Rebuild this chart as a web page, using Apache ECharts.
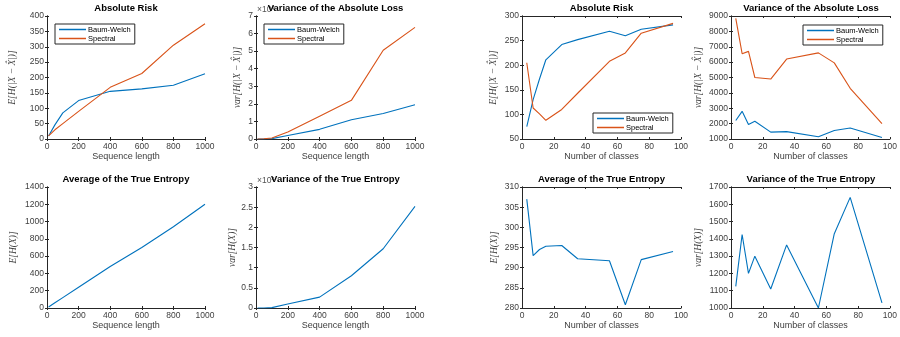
<!DOCTYPE html>
<html>
<head>
<meta charset="utf-8">
<script src="https://cdn.jsdelivr.net/npm/echarts@6/dist/echarts.min.js"></script>
<style>
html, body { margin: 0; padding: 0; background: #fff; }
#main { width: 900px; height: 337px; }
</style>
</head>
<body>
<div id="main"></div>
<script>
// x values
var seqLen = [10, 50, 100, 200, 400, 600, 800, 1000];
var classes = [3, 7, 11, 15, 25, 35, 55, 65, 75, 95];

// sequence length panels
var riskSeqBW = [10, 46, 85, 125, 155, 163, 175, 212];
var riskSeqSp = [10, 30, 50, 90, 168, 213, 305, 375];
var varLossSeqBW = [0, 0, 200, 2000, 5500, 11000, 14500, 19500];
var varLossSeqSp = [0, 100, 600, 4000, 13000, 22000, 50500, 63500];
var entSeq = [12, 60, 120, 240, 480, 700, 940, 1200];
var varEntSeq = [0, 0, 100, 1000, 2700, 8000, 14700, 25200];

// number of classes panels
var riskClsBW = [75, 130, 172, 211, 242, 252, 269, 260, 273, 282];
var riskClsSp = [205, 113, 101, 88, 110, 143, 208, 225, 265, 285];
var varLossClsBW = [2200, 2800, 1950, 2150, 1450, 1480, 1150, 1550, 1720, 1100];
var varLossClsSp = [8850, 6550, 6700, 5000, 4900, 6200, 6600, 5950, 4300, 2000];
var entCls = [307, 293, 294.5, 295.3, 295.5, 292.2, 291.7, 280.8, 292, 294];
var varEntCls = [1125, 1425, 1200, 1300, 1110, 1365, 1000, 1430, 1640, 1030];

var blue = '#0072BD', orange = '#D95319';
var axisCol = '#262626';
var font = '"Liberation Sans", Arial, Helvetica, sans-serif';

var myChart = echarts.init(document.getElementById('main'));

var option = {
    backgroundColor: '#fff',
    animation: false,
    title: [], grid: [], xAxis: [], yAxis: [], series: [], legend: [], graphic: []
};

function pair(a, b) {
    var out = [];
    for (var i = 0; i < a.length; i++) out.push([a[i], b[i]]);
    return out;
}

function plain(v) { return String(v); }

function panel(p) {
    var gi = option.grid.length;
    option.grid.push({left: p.l, top: p.t, width: p.w, height: p.h, containLabel: false});
    option.title.push({
        text: p.title, left: p.l + p.w / 2, top: p.t - 13, textAlign: 'center', padding: 0,
        textStyle: {fontFamily: font, fontSize: 9.5, fontWeight: 'bold', color: '#000'}
    });
    var xb = {
        type: 'value', gridIndex: gi, min: p.xmin, max: p.xmax, interval: p.xint,
        name: p.xname, nameLocation: 'middle', nameGap: 9,
        nameTextStyle: {fontFamily: font, fontSize: 9, color: '#404040'},
        axisLine: {show: true, lineStyle: {color: axisCol, width: 1}},
        axisTick: {show: true, inside: true, length: 2, lineStyle: {color: axisCol}},
        axisLabel: {fontFamily: font, fontSize: 8.5, color: '#404040', margin: 3, formatter: plain},
        splitLine: {show: false}
    };
    var yb = {
        type: 'value', gridIndex: gi, min: p.ymin, max: p.ymax, interval: p.yint,
        name: p.yname, nameLocation: 'middle', nameGap: p.ygap,
        nameTextStyle: {fontFamily: '"Liberation Serif", "DejaVu Serif", serif', fontStyle: 'italic', fontSize: 9.5, color: '#404040'},
        axisLine: {show: true, lineStyle: {color: axisCol, width: 1}},
        axisTick: {show: true, inside: true, length: 2, lineStyle: {color: axisCol}},
        axisLabel: {fontFamily: font, fontSize: 8.5, color: '#404040', margin: 3,
            formatter: p.yfmt || plain},
        splitLine: {show: false}
    };
    var xt = echarts.util.clone(xb);
    xt.position = 'top'; xt.name = ''; xt.axisLabel = {show: false};
    var yr = echarts.util.clone(yb);
    yr.position = 'right'; yr.name = ''; yr.axisLabel = {show: false};
    xb.position = 'bottom'; yb.position = 'left';
    var xi = option.xAxis.length, yi = option.yAxis.length;
    option.xAxis.push(xb, xt);
    option.yAxis.push(yb, yr);
    p.lines.forEach(function (s) {
        option.series.push({
            type: 'line', name: s.name, xAxisIndex: xi, yAxisIndex: yi,
            data: pair(p.x, s.data), symbol: 'none', showSymbol: false,
            lineStyle: {color: s.color, width: 1.1}, itemStyle: {color: s.color}
        });
    });
    if (p.legend) {
        option.legend.push({
            left: p.legend[0], top: p.legend[1], orient: 'vertical',
            data: ['Baum-Welch', 'Spectral'], icon: 'rect', itemWidth: 27, itemHeight: 1.5, itemGap: 0,
            padding: [1, 4, 1, 4], borderColor: axisCol, borderWidth: 1, backgroundColor: '#fff',
            selectedMode: false,
            textStyle: {fontFamily: font, fontSize: 7.5, color: '#000', lineHeight: 9, padding: [0, 0, 0, -3]}
        });
    }
    if (p.exp) {
        option.graphic.push({
            type: 'text', left: p.l + 1, top: p.t - 11, z: 1,
            style: {text: '×10{s|4}', fill: '#555', font: '8.5px ' + font,
                rich: {s: {fontSize: 6, verticalAlign: 'top', fill: '#555', padding: [0, 0, 4, 0]}}}
        });
    }
}

var riskName = 'E[H(|X − X\u0302|)]';
var varName = 'var[H(|X − X\u0302|)]';
var e4 = function (v) { return String(+(v / 10000).toFixed(1)); };

panel({title: 'Absolute Risk', l: 47, t: 16, w: 158, h: 123, x: seqLen,
    xmin: 0, xmax: 1000, xint: 200, xname: 'Sequence length',
    ymin: 0, ymax: 400, yint: 50, yname: riskName, ygap: 30,
    lines: [{name: 'Baum-Welch', data: riskSeqBW, color: blue}, {name: 'Spectral', data: riskSeqSp, color: orange}],
    legend: [55, 24]});
panel({title: 'Variance of the Absolute Loss', l: 256, t: 16, w: 159, h: 123, x: seqLen,
    xmin: 0, xmax: 1000, xint: 200, xname: 'Sequence length',
    ymin: 0, ymax: 70000, yint: 10000, yname: varName, ygap: 14, yfmt: e4, exp: true,
    lines: [{name: 'Baum-Welch', data: varLossSeqBW, color: blue}, {name: 'Spectral', data: varLossSeqSp, color: orange}],
    legend: [264, 24]});
panel({title: 'Absolute Risk', l: 522, t: 16, w: 159, h: 123, x: classes,
    xmin: 0, xmax: 100, xint: 20, xname: 'Number of classes',
    ymin: 50, ymax: 300, yint: 50, yname: riskName, ygap: 24,
    lines: [{name: 'Baum-Welch', data: riskClsBW, color: blue}, {name: 'Spectral', data: riskClsSp, color: orange}],
    legend: [593, 113]});
panel({title: 'Variance of the Absolute Loss', l: 731, t: 16, w: 160, h: 123, x: classes,
    xmin: 0, xmax: 100, xint: 20, xname: 'Number of classes',
    ymin: 1000, ymax: 9000, yint: 1000, yname: varName, ygap: 28,
    lines: [{name: 'Baum-Welch', data: varLossClsBW, color: blue}, {name: 'Spectral', data: varLossClsSp, color: orange}],
    legend: [803, 25]});

panel({title: 'Average of the True Entropy', l: 47, t: 187, w: 158, h: 121, x: seqLen,
    xmin: 0, xmax: 1000, xint: 200, xname: 'Sequence length',
    ymin: 0, ymax: 1400, yint: 200, yname: 'E[H(X)]', ygap: 29,
    lines: [{name: 'True', data: entSeq, color: blue}]});
panel({title: 'Variance of the True Entropy', l: 256, t: 187, w: 159, h: 121, x: seqLen,
    xmin: 0, xmax: 1000, xint: 200, xname: 'Sequence length',
    ymin: 0, ymax: 30000, yint: 5000, yname: 'var[H(X)]', ygap: 15, yfmt: e4, exp: true,
    lines: [{name: 'True', data: varEntSeq, color: blue}]});
panel({title: 'Average of the True Entropy', l: 522, t: 187, w: 159, h: 121, x: classes,
    xmin: 0, xmax: 100, xint: 20, xname: 'Number of classes',
    ymin: 280, ymax: 310, yint: 5, yname: 'E[H(X)]', ygap: 23,
    lines: [{name: 'True', data: entCls, color: blue}]});
panel({title: 'Variance of the True Entropy', l: 731, t: 187, w: 160, h: 121, x: classes,
    xmin: 0, xmax: 100, xint: 20, xname: 'Number of classes',
    ymin: 1000, ymax: 1700, yint: 100, yname: 'var[H(X)]', ygap: 28,
    lines: [{name: 'True', data: varEntCls, color: blue}]});

myChart.setOption(option);
</script>
</body>
</html>
